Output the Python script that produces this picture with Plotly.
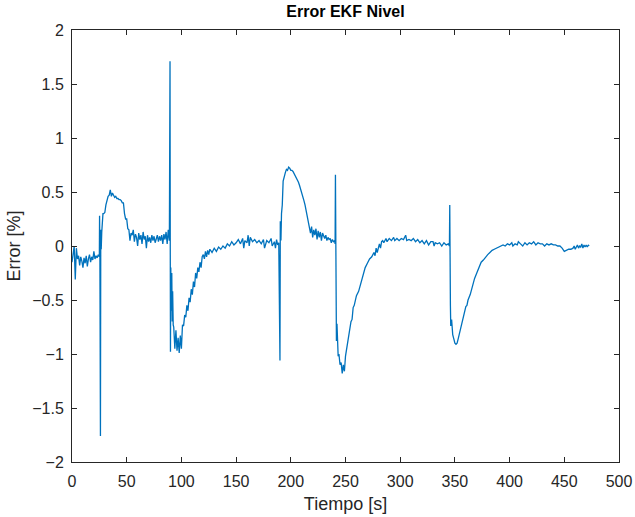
import plotly.graph_objects as go

t = [0,1,2,3,4,5,6,7,8,9,10,11,12,13,14,15,16,17,18,19,20,21,22,23,24,25,
     25.2,25.5,26.0,26.3,26.7,27.2,27.8,28.3,29,30,31,32,33,34,35,36,37,38,39,40,41,42,43,44,45,46,47,48,49,50,
     51,52,53,54,55,56,57,58,59,60,61,62,63,64,65,66,67,68,69,70,71,72,73,74,75,76,77,78,79,80,81,82,83,84,85,86,87,88,89,
     89.6,89.8,90.0,90.3,90.7,91.2,91.6,92.0,92.5,93,94,95,96,97,98,99,100,101,102,103,104,105,106,107,108,109,110,
     111,112,113,114,115,116,117,118,119,120,121,122,123,124,125,126,127,128,130,132,134,136,138,140,142,144,146,148,150,
     152,154,156,157,158,160,161,162,163,165,167,169,171,173,175,176,178,180,182,183,185,186,187,188,189,
     190.1,190.4,191,191.5,192.2,193,194,195,196,197,198,199,200,201,202,203,204,205,206,207,208,209,210,
     211,212,213,214,215,216,217,218,219,220,221,222,223,224,225,226,227,228,229,230,231,232,233,234,235,236,237,238,239,240,240.5,
     240.8,241.1,241.4,241.7,242.2,242.7,243.3,244,245,246,247,248,249,250,251,252,253,254,255,256,257,258,259,260,
     262,264,266,268,270,272,274,276,277,278,279,280,281,282,283,284,285,287,288,290,292,294,295,297,299,301,303,305,306,
     308,310,312,314,316,318,320,322,324,326,328,330,331,332,334,336,338,340,342,344,345,
     345.3,345.6,345.9,346.2,347,348,349,350,351,352,353,354,355,356,357,358,359,360,361,362,364,366,368,370,372,374,376,378,380,
     382,384,386,388,390,392,394,396,398,400,402,403,405,407,408,410,412,414,416,418,420,422,424,426,428,430,432,434,436,438,440,
     442,444,446,448,450,452,454,456,458,459,460,461,462,463,464,465,466,467,468,469,470,471,472,472.6]

err = [-0.15,-0.08,0.0,-0.31,-0.02,-0.12,-0.09,-0.18,-0.1,-0.14,-0.2,-0.11,-0.16,-0.09,-0.19,-0.12,-0.08,-0.15,-0.1,-0.13,-0.05,-0.12,-0.09,-0.11,-0.08,-0.1,
       0.28,-0.1,-1.76,0.15,-0.03,0.13,0.2,0.3,0.3,0.31,0.38,0.43,0.46,0.47,0.52,0.46,0.49,0.47,0.45,0.46,0.44,0.44,0.43,0.43,0.42,0.40,0.40,0.3,0.25,0.25,
       0.16,0.15,0.05,0.12,0.1,0.15,0.04,0.11,0.08,0.0,0.12,0.06,0.1,0.02,0.13,0.06,0.09,-0.02,0.1,0.04,0.08,0.03,0.1,0.05,0.09,0.03,0.07,0.1,0.04,0.09,0.05,0.1,0.02,0.11,0.06,0.13,0.02,0.15,0.05,
       1.71,0.1,-0.98,-0.2,-0.6,-0.25,-0.7,-0.42,-0.73,-0.75,-0.95,-0.78,-0.97,-0.85,-0.99,-0.83,-0.95,-0.73,-0.74,-0.64,-0.66,-0.55,-0.6,-0.48,-0.52,-0.4,-0.45,
       -0.33,-0.38,-0.25,-0.3,-0.2,-0.24,-0.15,-0.2,-0.1,-0.08,-0.12,-0.05,-0.1,-0.04,-0.08,-0.03,-0.05,-0.06,-0.02,-0.05,-0.01,-0.03,0.0,-0.02,0.02,0.0,0.04,0.01,0.03,
       0.06,0.02,0.07,-0.02,0.05,0.03,0.1,0.0,0.08,0.04,0.06,0.03,0.05,0.02,0.06,-0.02,0.05,0.03,0.07,0.0,0.04,-0.02,0.06,0.01,0.03,
       -1.06,0.23,0.05,0.3,0.38,0.6,0.65,0.68,0.71,0.7,0.73,0.72,0.70,0.70,0.69,0.67,0.66,0.645,0.62,0.59,0.56,0.53,0.50,
       0.47,0.42,0.38,0.33,0.28,0.22,0.18,0.12,0.18,0.08,0.15,0.1,0.16,0.06,0.14,0.08,0.13,0.05,0.12,0.1,0.07,0.1,0.05,0.08,0.06,0.07,0.03,0.06,0.04,0.05,0.02,
       0.66,-0.46,-0.3,-0.88,-0.72,-0.9,-1.02,-1.0,-1.1,-1.08,-1.18,-1.1,-1.16,-1.02,-0.95,-0.88,-0.82,-0.75,-0.7,-0.68,-0.57,-0.55,-0.5,-0.46,
       -0.42,-0.34,-0.26,-0.2,-0.16,-0.12,-0.1,-0.06,-0.09,-0.02,-0.06,0.0,0.02,-0.02,0.04,0.05,0.03,0.07,0.04,0.07,0.05,0.08,0.05,0.07,0.05,0.07,0.06,0.10,0.05,
       0.06,0.05,0.07,0.04,0.06,0.03,0.05,0.02,0.05,0.01,0.04,0.04,0.0,0.03,0.02,0.03,0.0,0.03,0.01,0.02,0.0,
       0.38,-0.1,-0.55,-0.74,-0.68,-0.82,-0.86,-0.9,-0.91,-0.9,-0.86,-0.82,-0.76,-0.72,-0.68,-0.65,-0.6,-0.56,-0.55,-0.5,-0.45,-0.36,-0.3,-0.25,-0.2,-0.15,-0.13,-0.1,-0.08,
       -0.06,-0.04,-0.03,-0.02,-0.01,0.0,0.01,0.0,0.02,0.01,0.03,0.0,0.02,0.01,0.04,0.02,0.0,0.03,0.01,0.03,0.02,0.04,0.01,0.03,0.02,0.02,0.0,0.02,0.01,0.02,0.01,
       0.01,0.0,0.0,-0.02,-0.05,-0.04,-0.03,-0.03,-0.02,0.0,-0.03,-0.01,0.01,-0.02,0.0,-0.01,0.02,-0.02,0.01,-0.01,0.01,-0.01,0.01,0.0]

x_ticks = [0, 50, 100, 150, 200, 250, 300, 350, 400, 450, 500]
y_ticks = [-2, -1.5, -1, -0.5, 0, 0.5, 1, 1.5, 2]

FONT = "Liberation Sans, Arial, Helvetica"

fig = go.Figure()
fig.add_trace(go.Scatter(x=t, y=err, mode="lines",
                         line=dict(color="#0072BD", width=1.3), showlegend=False))

axis_common = dict(showgrid=False, zeroline=False, showline=True, mirror="ticks",
                   linecolor="#262626", linewidth=1, ticks="inside", ticklen=5,
                   tickcolor="#262626", automargin=False,
                   tickfont=dict(family=FONT, size=16, color="#262626"))

fig.update_layout(
    width=635, height=517,
    margin=dict(l=72, r=16, t=30, b=55),
    paper_bgcolor="white", plot_bgcolor="white",
    title=dict(text="<b>Error EKF Nivel</b>", x=0.5, xanchor="center", xref="paper",
               y=1, yref="container", yanchor="top", pad=dict(t=6),
               font=dict(family=FONT, size=16, color="black")),
    xaxis=dict(range=[0, 500], tickvals=x_ticks, ticklabelstandoff=5,
               title=dict(text="Tiempo [s]", standoff=8,
                          font=dict(family=FONT, size=18, color="#262626")),
               **axis_common),
    yaxis=dict(range=[-2, 2], tickvals=y_ticks, ticklabelstandoff=4,
               title=dict(text="Error [%]", standoff=6,
                          font=dict(family=FONT, size=18, color="#262626")),
               **axis_common),
)

fig.write_html("out.html")
